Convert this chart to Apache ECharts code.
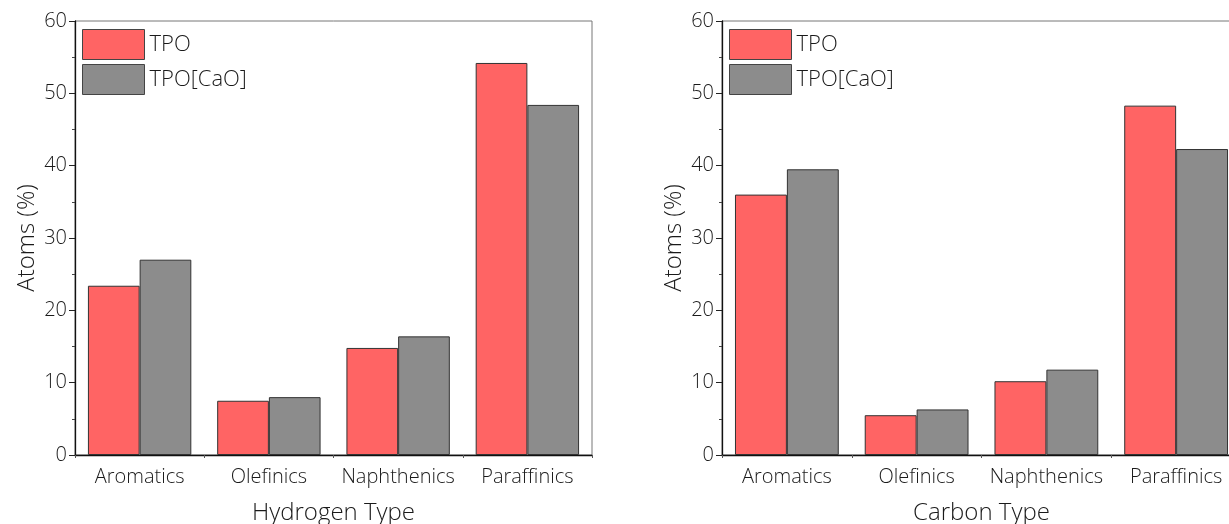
<!DOCTYPE html>
<html>
<head>
<meta charset="utf-8">
<script src="https://cdn.jsdelivr.net/npm/echarts@6/dist/echarts.min.js"></script>
<style>
html,body{margin:0;padding:0;background:#fff;}
#chart{width:1229px;height:524px;}
</style>
</head>
<body>
<div id="chart"></div>
<script>
const categories = ['Aromatics', 'Olefinics', 'Naphthenics', 'Paraffinics'];
const seriesNames = ['TPO', 'TPO[CaO]'];
const hydrogenTPO = [23.4, 7.5, 14.8, 54.2];
const hydrogenTPOCaO = [27.0, 8.0, 16.4, 48.4];
const carbonTPO = [36.0, 5.5, 10.2, 48.3];
const carbonTPOCaO = [39.5, 6.3, 11.8, 42.3];
const yTicks = { min: 0, max: 60, interval: 10 };

const FONT = "'Open Sans', 'Noto Sans', sans-serif";
const TXT = '#1a1a1a';
const RED = '#ff6464';
const GREY = '#8c8c8c';

const rects = [
  { left: 75, top: 21, width: 517, height: 434 },
  { left: 722, top: 21, width: 519, height: 434 }
];
const base = { outerBoundsMode: 'none', containLabel: false };
// grids 0,1: plots with frame; grids 2,3: overlays for minor category ticks
const grids = [
  Object.assign({ show: true, borderColor: '#777', borderWidth: 1 }, base, rects[0]),
  Object.assign({ show: true, borderColor: '#777', borderWidth: 1 }, base, rects[1]),
  Object.assign({}, base, rects[0]),
  Object.assign({}, base, rects[1])
];

function mainX(gi, name) {
  return {
    type: 'category', gridIndex: gi, data: categories, position: 'bottom',
    name: name, nameLocation: 'middle', nameGap: 46,
    nameTextStyle: { fontFamily: FONT, fontSize: 24, color: TXT, fontWeight: 300 },
    axisLine: { lineStyle: { color: '#111', width: 1.3 } },
    axisTick: { alignWithLabel: true, length: 6, lineStyle: { color: '#222' } },
    axisLabel: { interval: 0, fontFamily: FONT, fontSize: 20, color: TXT, margin: 12, fontWeight: 300 },
    splitLine: { show: false }
  };
}
function minorX(gi) {
  return {
    type: 'category', gridIndex: gi, data: categories, position: 'bottom',
    axisLine: { show: false },
    axisTick: { show: true, interval: 0, alignWithLabel: false, length: 3, lineStyle: { color: '#555' } },
    axisLabel: { show: false },
    splitLine: { show: false }
  };
}
function yAx(gi) {
  return {
    type: 'value', gridIndex: gi, min: yTicks.min, max: yTicks.max, interval: yTicks.interval,
    name: 'Atoms (%)', nameLocation: 'middle', nameGap: 36,
    nameTextStyle: { fontFamily: FONT, fontSize: 24, color: TXT, fontWeight: 300 },
    axisLine: { show: true, lineStyle: { color: '#111', width: 1.3 } },
    axisTick: { show: true, length: 6, lineStyle: { color: '#222' } },
    minorTick: { show: true, splitNumber: 2, length: 3, lineStyle: { color: '#444' } },
    axisLabel: { fontFamily: FONT, fontSize: 20, color: TXT, margin: 8, fontWeight: 300 },
    splitLine: { show: false }
  };
}
function hiddenY(gi) {
  return { type: 'value', gridIndex: gi, show: false, min: 0, max: 1 };
}
function bar(name, data, xi, yi, color) {
  return {
    type: 'bar', name: name, data: data, xAxisIndex: xi, yAxisIndex: yi,
    barGap: '0%', barCategoryGap: '20%',
    itemStyle: { color: color, borderColor: '#333', borderWidth: 1 },
    emphasis: { disabled: true }
  };
}
function legend(left) {
  return {
    orient: 'vertical', left: left, top: 29, padding: 0,
    itemWidth: 62, itemHeight: 30, itemGap: 4, icon: 'rect',
    data: seriesNames,
    textStyle: { fontFamily: FONT, fontSize: 22, color: TXT, fontWeight: 300 },
    itemStyle: { borderColor: '#444', borderWidth: 1 },
    selectedMode: false
  };
}

const chart = echarts.init(document.getElementById('chart'), null, { renderer: 'canvas' });
chart.setOption({
  animation: false,
  backgroundColor: '#fff',
  grid: grids,
  legend: [legend(82), legend(729)],
  xAxis: [mainX(0, 'Hydrogen Type'), mainX(1, 'Carbon Type'), minorX(2), minorX(3)],
  yAxis: [yAx(0), yAx(1), hiddenY(2), hiddenY(3)],
  series: [
    bar(seriesNames[0], hydrogenTPO, 0, 0, RED),
    bar(seriesNames[1], hydrogenTPOCaO, 0, 0, GREY),
    bar(seriesNames[0], carbonTPO, 1, 1, RED),
    bar(seriesNames[1], carbonTPOCaO, 1, 1, GREY)
  ]
});
</script>
</body>
</html>
